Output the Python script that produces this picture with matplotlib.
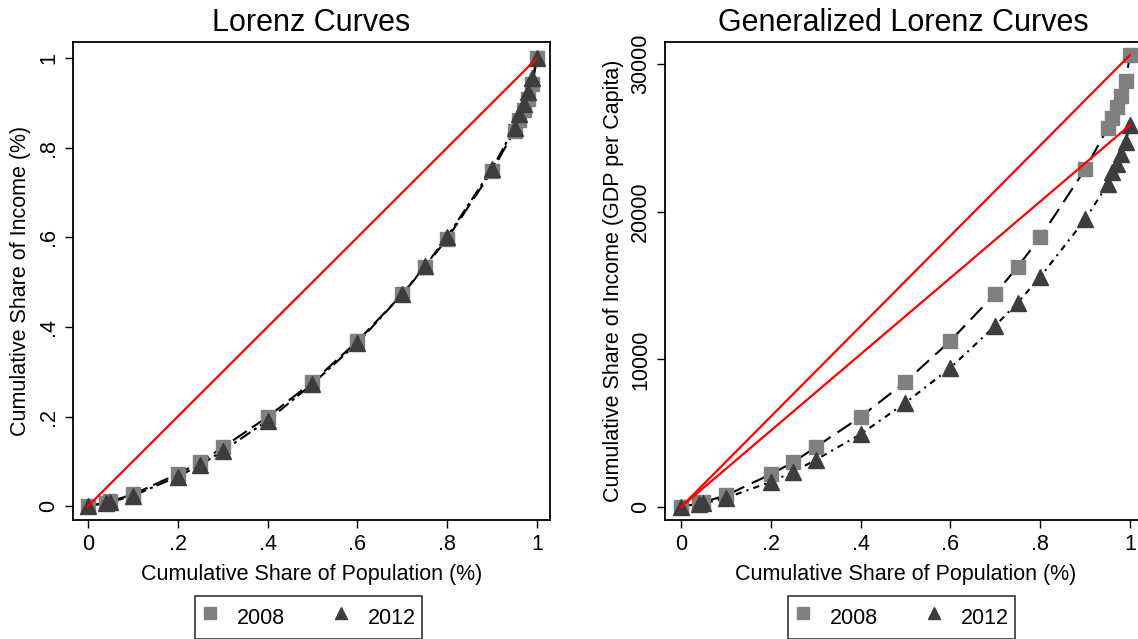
# Lorenz and generalized Lorenz curves, 2008 vs 2012

import matplotlib
matplotlib.use("Agg")
import matplotlib.pyplot as plt
from matplotlib.lines import Line2D

plt.rcParams['font.family'] = ['Liberation Sans', 'DejaVu Sans']

# cumulative share of population
pop = [0, 0.04, 0.05, 0.1, 0.2, 0.25, 0.3, 0.4, 0.5, 0.6, 0.7, 0.75, 0.8,
       0.9, 0.95, 0.96, 0.97, 0.98, 0.99, 1.0]

# Lorenz curves (share of income)
lorenz_2008 = [0, 0.008, 0.011, 0.026, 0.072, 0.098, 0.131, 0.199, 0.277, 0.368,
               0.473, 0.533, 0.597, 0.748, 0.838, 0.861, 0.885, 0.909, 0.943, 1.0]
lorenz_2012 = [0, 0.007, 0.009, 0.023, 0.066, 0.092, 0.123, 0.191, 0.273, 0.364,
               0.473, 0.535, 0.601, 0.753, 0.845, 0.876, 0.898, 0.924, 0.955, 1.0]

# generalized Lorenz curves (GDP per capita)
glorenz_2008 = [0, 250, 330, 780, 2220, 3030, 4060, 6100, 8480, 11260,
                14450, 16280, 18260, 22880, 25660, 26340, 27090, 27830, 28850, 30620]
glorenz_2012 = [0, 190, 240, 610, 1700, 2380, 3190, 4930, 7060, 9430,
                12280, 13850, 15580, 19480, 21860, 22670, 23220, 23900, 24710, 25870]

W, H = 1138, 639
fig = plt.figure(figsize=(W / 100, H / 100), dpi=100)

sq_col = '#808080'
tri_col = '#3d3d3d'


def style_axes(ax):
    for s in ax.spines.values():
        s.set_linewidth(1.3)
    ax.tick_params(direction='out', length=6, width=1, labelsize=15.5, pad=4)
    ax.set_xticks([0, 0.2, 0.4, 0.6, 0.8, 1])
    ax.set_xticklabels(['0', '.2', '.4', '.6', '.8', '1'])
    for lab in ax.get_yticklabels():
        lab.set_rotation(90)
        lab.set_va('center')
    ax.set_xlabel('Cumulative Share of Population (%)', fontsize=15.5)
    ax.xaxis.set_label_coords(0.5, -0.092)


def add_legend(ax):
    handles = [Line2D([], [], ls='none', marker='s', ms=8, color=sq_col),
               Line2D([], [], ls='none', marker='^', ms=9, color=tri_col)]
    leg = ax.legend(handles, ['2008', '2012'], ncol=2, loc='upper left',
                    bbox_to_anchor=(0.255, -0.158), fontsize=15.5, frameon=True,
                    fancybox=False, edgecolor='black', handlelength=0.8,
                    handleheight=1.8, handletextpad=0.85, columnspacing=2.2,
                    borderpad=0.3, borderaxespad=0)
    leg.get_frame().set_linewidth(1.2)


# left panel: Lorenz curves
ax1 = fig.add_axes([73 / W, 1 - 520 / H, 477 / W, 478 / H])
ax1.plot([0, 1], [0, 1], color='red', lw=1.6, zorder=5)
ax1.plot(pop, lorenz_2008, color='black', lw=1.5, dashes=(8, 3), zorder=2)
ax1.plot(pop, lorenz_2012, color='black', lw=1.5, dashes=(6, 2, 1.5, 2), zorder=2)
ax1.plot(pop, lorenz_2008, ls='none', marker='s', ms=10, color=sq_col, zorder=3)
ax1.plot(pop, lorenz_2012, ls='none', marker='^', ms=11, color=tri_col, zorder=4)
ax1.set_xlim(-0.0334, 1.029)
ax1.set_ylim(-0.031, 1.036)
ax1.set_yticks([0, 0.2, 0.4, 0.6, 0.8, 1])
ax1.set_yticklabels(['0', '.2', '.4', '.6', '.8', '1'])
style_axes(ax1)
ax1.set_ylabel('Cumulative Share of Income (%)', fontsize=15.5)
ax1.yaxis.set_label_coords(-0.088, 0.5)
ax1.set_title('Lorenz Curves', fontsize=22, pad=8)
add_legend(ax1)

# right panel: generalized Lorenz curves
ax2 = fig.add_axes([665 / W, 1 - 520 / H, 481 / W, 478 / H])
ax2.plot([0, 1], [0, glorenz_2008[-1]], color='red', lw=1.6, zorder=5)
ax2.plot([0, 1], [0, glorenz_2012[-1]], color='red', lw=1.6, zorder=5)
ax2.plot(pop, glorenz_2008, color='black', lw=1.5, dashes=(8, 4), zorder=2)
ax2.plot(pop, glorenz_2012, color='black', lw=1.5, dashes=(3, 2.5, 1, 2.5), zorder=2)
ax2.plot(pop, glorenz_2008, ls='none', marker='s', ms=10, color=sq_col, zorder=3)
ax2.plot(pop, glorenz_2012, ls='none', marker='^', ms=11, color=tri_col, zorder=4)
ax2.set_xlim(-0.0356, 1.0356)
ax2.set_ylim(-880, 31500)
ax2.set_yticks([0, 10000, 20000, 30000])
ax2.set_yticklabels(['0', '10000', '20000', '30000'])
style_axes(ax2)
ax2.set_ylabel('Cumulative Share of Income (GDP per Capita)', fontsize=15.5)
ax2.yaxis.set_label_coords(-0.085, 0.5)
ax2.set_title('Generalized Lorenz Curves', fontsize=22, pad=8)
ax2.title.set_x((903 - 665) / 481)
add_legend(ax2)

fig.savefig('out.png', dpi=100)
